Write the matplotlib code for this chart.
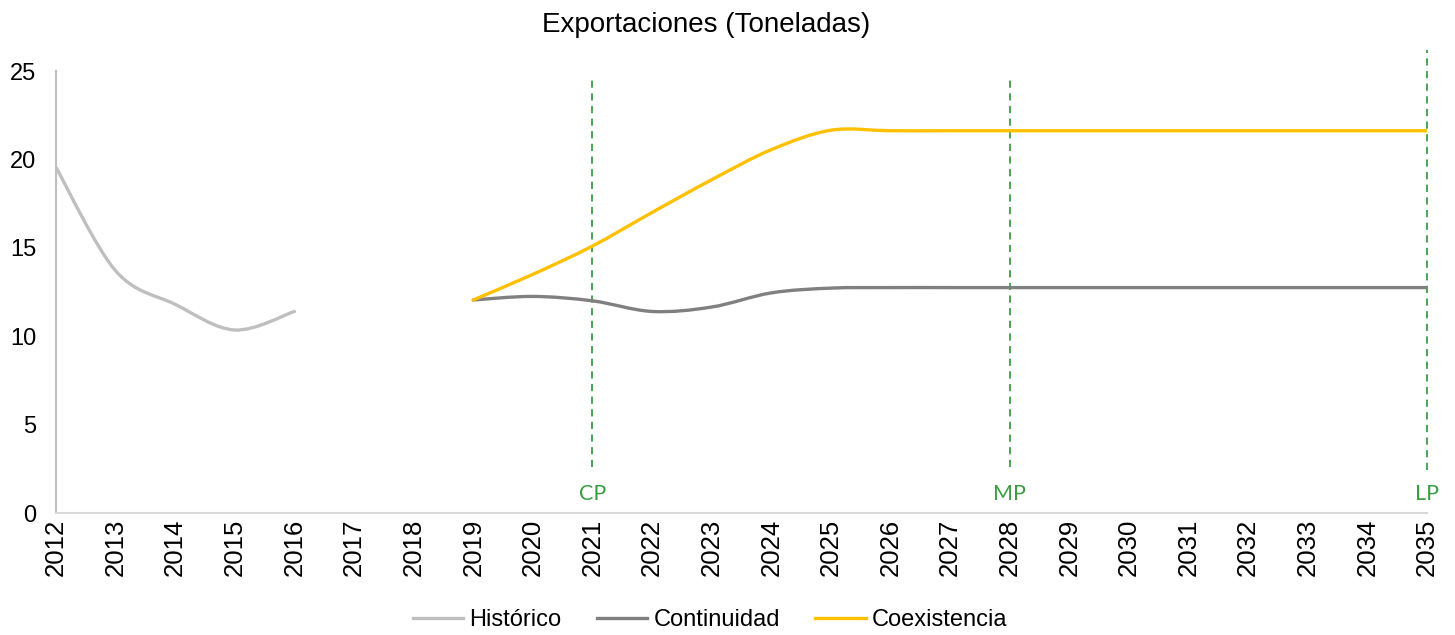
import numpy as np
import matplotlib
matplotlib.use("Agg")
import matplotlib.pyplot as plt
from matplotlib.path import Path
from matplotlib.patches import PathPatch
from matplotlib.lines import Line2D

plt.rcParams['font.family'] = ['Liberation Sans', 'DejaVu Sans']

years = list(range(2012, 2036))
hist_years = [2012, 2013, 2014, 2015, 2016]
historico = [19.55, 13.7, 11.8, 10.35, 11.4]
proj_years = list(range(2019, 2036))
continuidad = [12.05, 12.25, 12.0, 11.4, 11.65, 12.45, 12.72, 12.75, 12.75, 12.75,
               12.75, 12.75, 12.75, 12.75, 12.75, 12.75, 12.75]
coexistencia = [12.05, 13.5, 15.1, 17.0, 18.85, 20.55, 21.65, 21.62, 21.62, 21.62,
                21.62, 21.62, 21.62, 21.62, 21.62, 21.62, 21.62]
series_names = ['Histórico', 'Continuidad', 'Coexistencia']
series_colors = ['#BFBFBF', '#808080', '#FFC000']
markers_years = [2021, 2028, 2035]
markers_labels = ['CP', 'MP', 'LP']
green = '#3A9E45'


def smooth_path(xs, ys):
    xs = np.asarray(xs, float); ys = np.asarray(ys, float)
    n = len(xs)
    verts = [(xs[0], ys[0])]
    codes = [Path.MOVETO]
    for i in range(n - 1):
        p0 = np.array([xs[max(i - 1, 0)], ys[max(i - 1, 0)]])
        p1 = np.array([xs[i], ys[i]])
        p2 = np.array([xs[i + 1], ys[i + 1]])
        p3 = np.array([xs[min(i + 2, n - 1)], ys[min(i + 2, n - 1)]])
        c1 = p1 + (p2 - p0) / 6.0
        c2 = p2 - (p3 - p1) / 6.0
        verts += [tuple(c1), tuple(c2), tuple(p2)]
        codes += [Path.CURVE4] * 3
    return Path(verts, codes)


fig = plt.figure(figsize=(14.55, 6.35), dpi=100)
ax = fig.add_axes([56 / 1455, 1 - 513 / 635, (1427 - 56) / 1455, (513 - 71) / 635])
ax.set_xlim(2012, 2035)
ax.set_ylim(0, 25)

for xs, ys, c in [(hist_years, historico, series_colors[0]),
                  (proj_years, continuidad, series_colors[1]),
                  (proj_years, coexistencia, series_colors[2])]:
    patch = PathPatch(smooth_path(xs, ys), facecolor='none', edgecolor=c,
                      lw=2.4, capstyle='round', joinstyle='round', zorder=3)
    ax.add_patch(patch)

for yr, lab in zip(markers_years, markers_labels):
    top = 26.2 if yr == 2035 else 24.5
    bot = 2.45 if yr == 2035 else 2.6
    ax.plot([yr, yr], [bot, top], color=green, lw=1.3, ls=(0, (4, 3)),
            clip_on=False, zorder=2)
    ax.text(yr, 1.05, lab, color=green, ha='center', va='center',
            fontsize=15.5, family=['Lato', 'DejaVu Sans'])

ax.set_xticks(years)
ax.set_xticklabels([str(y) for y in years], rotation=90)
ax.set_yticks([0, 5, 10, 15, 20, 25])
ax.tick_params(axis='both', length=0)
ax.tick_params(axis='y', pad=14, labelsize=17)
ax.tick_params(axis='x', pad=4, labelsize=18.5)
for s in ['top', 'right']:
    ax.spines[s].set_visible(False)
ax.spines['left'].set_color('#BFBFBF')
ax.spines['left'].set_linewidth(1.5)
ax.spines['bottom'].set_color('#D9D9D9')
ax.spines['bottom'].set_linewidth(1.5)

fig.text(706 / 1455, 1 - 25 / 635, 'Exportaciones (Toneladas)', ha='center',
         va='center', fontsize=20)

handles = [Line2D([], [], color=c, lw=2.4) for c in series_colors]
fig.legend(handles, series_names, loc='center', bbox_to_anchor=(710 / 1455, 1 - 620 / 635),
           ncol=3, frameon=False, fontsize=17, handlelength=2.15,
           handletextpad=0.25, columnspacing=1.5)

fig.savefig('out.png', dpi=100)
